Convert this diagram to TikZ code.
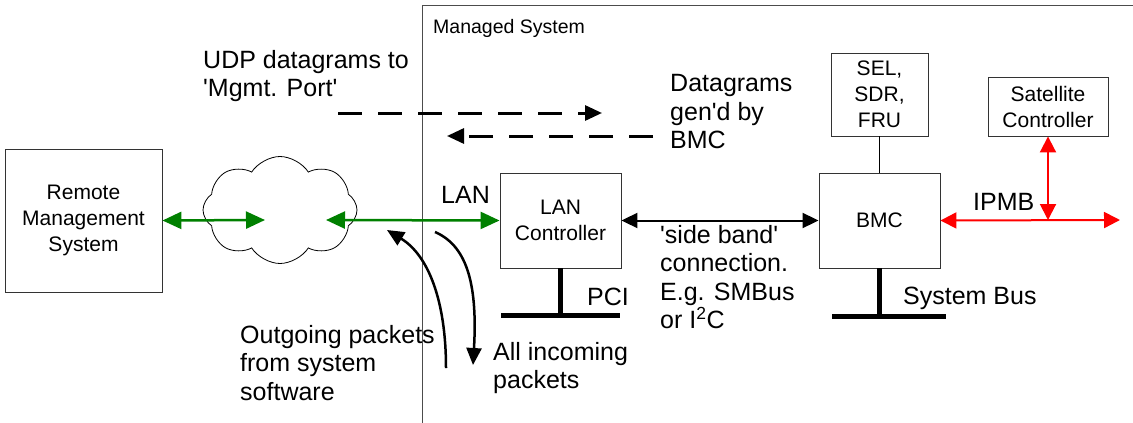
\documentclass[tikz,border=0pt]{standalone}
\usepackage{fontspec}
\setmainfont{Liberation Sans}
\usetikzlibrary{arrows.meta,shapes.symbols}
\definecolor{lanGreen}{RGB}{0,128,0}
\tikzset{
  box/.style={draw=black!80,line width=0.9pt,minimum width=121pt,minimum height=95pt,
    align=center,inner sep=0pt,font=\fontsize{21}{26}\selectfont},
  note/.style={inner sep=0pt,align=left,font=\fontsize{25}{28.5}\selectfont},
  bus/.style={line width=5pt},
  dgram/.style={line width=3pt,dash pattern=on 24pt off 16pt,-{Triangle[length=17pt,width=15pt]}},
  lanlink/.style={lanGreen,line width=2.5pt,{Triangle[length=19pt,width=17pt]}-{Triangle[length=19pt,width=17pt]}},
  sideband/.style={line width=2pt,{Triangle[length=16pt,width=15pt]}-{Triangle[length=16pt,width=15pt]}},
  ipmb/.style={red,line width=2pt,{Triangle[length=16pt,width=16pt]}-{Triangle[length=16pt,width=16pt]}},
  pkt/.style={line width=2.5pt,-{Triangle[length=17pt,width=15pt]}}
}
\begin{document}
\begin{tikzpicture}[x=1pt,y=-1pt]
\useasboundingbox (0,0) rectangle (1133,423);
\draw[black!70,line width=0.9pt] (422,423) -- (422,5) -- (1133,5);
\node[anchor=base west,inner sep=0pt,font=\fontsize{19.5}{22}\selectfont] (ms) at (433,33) {Managed System};

\node[box,minimum width=157pt,minimum height=143pt] (rms) at (83.5,220.5) {Remote\\Management\\System};
\node[draw,cloud,cloud puffs=8,cloud puff arc=115,aspect=1.4,minimum width=154pt,minimum height=107pt,
  line width=0.8pt,inner sep=0pt] (net) at (280,210) {};
\node[box] (lanc) at (560.5,220.5) {LAN\\Controller};
\node[box] (bmc) at (879.5,220.5) {BMC};
\node[box,minimum width=97pt,minimum height=83pt] (sel) at (879.5,94.5) {SEL,\\SDR,\\FRU};
\node[box,minimum width=120pt,minimum height=59pt] (sat) at (1048,106.5) {Satellite\\Controller};

\coordinate (netw) at (265,220);
\coordinate (nete) at (326,220);
\draw[lanlink] (rms.east) -- (netw);
\draw[lanlink] (nete) -- (lanc.west);
\node[note,anchor=base west] (lan) at (441,203) {LAN};

\draw[sideband] (lanc.east) -- (bmc.west);
\draw[line width=1.5pt] (sel.south) -- (bmc.north);

\coordinate (ipmbj) at (1048,220);
\coordinate (ipmbe) at (1120,220);
\draw[ipmb] (bmc.east) -- (ipmbe);
\draw[ipmb] (sat.south) -- (ipmbj);
\node[note,anchor=base west] (ipmbl) at (973,210) {IPMB};

\coordinate (pci) at (560.5,315);
\draw[bus] (lanc.south) -- (pci);
\draw[bus] (501,315) -- (620,315);
\node[note,anchor=base west] (pcil) at (587,305) {PCI};
\coordinate (sysb) at (879.5,316);
\draw[bus] (bmc.south) -- (sysb);
\draw[bus] (832,316) -- (946,316);
\node[note,anchor=base west] (sysl) at (903,304) {System Bus};

\coordinate (udpa) at (338,113);
\coordinate (udpb) at (602,113);
\draw[dgram] (udpa) -- (udpb);
\coordinate (bmca) at (653,136);
\coordinate (bmcb) at (447,136);
\draw[dgram] (bmca) -- (bmcb);
\node[note,anchor=north west] (udp) at (203,50.1) {UDP datagrams to\\\textquotesingle Mgmt. Port\textquotesingle};
\node[note,anchor=north west] (gen) at (670,74.1) {Datagrams\\gen\textquotesingle d by\\BMC};

\coordinate (outa) at (446,368);
\coordinate (outb) at (387,230);
\draw[pkt] (outa) .. controls (446,300) and (428,255) .. (outb);
\coordinate (ina) at (435,232);
\coordinate (inb) at (473,365);
\draw[pkt] (ina) .. controls (465,245) and (478,280) .. (inb);
\node[note,anchor=north west] (outl) at (240,325.1) {Outgoing packets\\from system\\software};
\node[note,anchor=north west] (inl) at (493,342.1) {All incoming\\packets};
\node[note,anchor=north west] (sbl) at (660,225.1) {\textquotesingle side band\textquotesingle\\connection.\\E.g. SMBus\\or I\textsuperscript{2}C};
\end{tikzpicture}
\end{document}
